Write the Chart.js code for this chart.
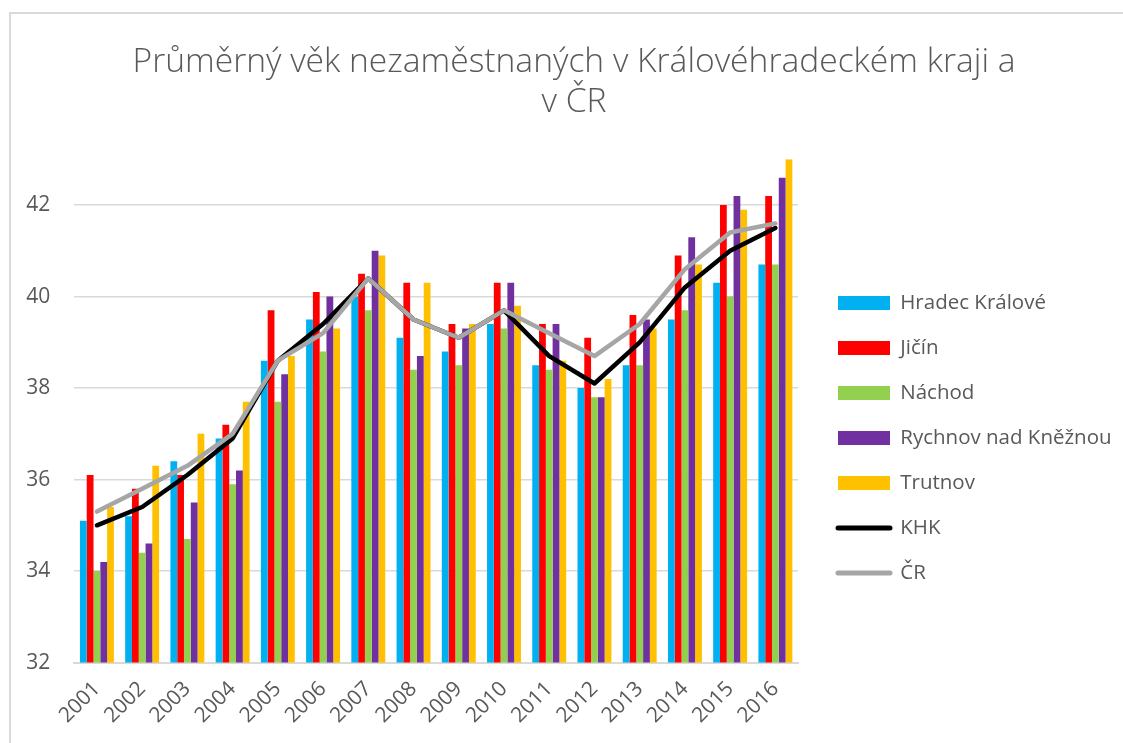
<!DOCTYPE html>
<html>
<head>
<meta charset="utf-8">
<script src="https://cdn.jsdelivr.net/npm/chart.js@4/dist/chart.umd.min.js"></script>
<style>
  html, body { margin: 0; padding: 0; background: #fff; overflow: hidden; }
  #frame { position: absolute; left: 9px; top: 12px; width: 1126px; height: 760px; border: 2px solid #d9d9d9; background: #fff; }
  canvas { display: block; }
</style>
</head>
<body>
<div id="frame"><canvas id="c" width="1126" height="729"></canvas></div>
<script>
const years = ['2001','2002','2003','2004','2005','2006','2007','2008','2009','2010','2011','2012','2013','2014','2015','2016'];
const hradecKralove = [35.1, 35.2, 36.4, 36.9, 38.6, 39.5, 40.0, 39.1, 38.8, 39.4, 38.5, 38.0, 38.5, 39.5, 40.3, 40.7];
const jicin         = [36.1, 35.8, 36.1, 37.2, 39.7, 40.1, 40.5, 40.3, 39.4, 40.3, 39.4, 39.1, 39.6, 40.9, 42.0, 42.2];
const nachod        = [34.0, 34.4, 34.7, 35.9, 37.7, 38.8, 39.7, 38.4, 38.5, 39.3, 38.4, 37.8, 38.5, 39.7, 40.0, 40.7];
const rychnov       = [34.2, 34.6, 35.5, 36.2, 38.3, 40.0, 41.0, 38.7, 39.3, 40.3, 39.4, 37.8, 39.5, 41.3, 42.2, 42.6];
const trutnov       = [35.4, 36.3, 37.0, 37.7, 38.7, 39.3, 40.9, 40.3, 39.4, 39.8, 38.6, 38.2, 39.3, 40.7, 41.9, 43.0];
const khk           = [35.0, 35.4, 36.1, 36.9, 38.6, 39.4, 40.4, 39.5, 39.1, 39.7, 38.7, 38.1, 39.0, 40.2, 41.0, 41.5];
const cr            = [35.3, 35.8, 36.3, 37.0, 38.6, 39.2, 40.4, 39.5, 39.1, 39.7, 39.2, 38.7, 39.4, 40.6, 41.4, 41.6];
const yTicks = [32, 34, 36, 38, 40, 42];
const titleLines = ['Průměrný věk nezaměstnaných v Královéhradeckém kraji a', 'v ČR'];

const TXT = '#595959';
const FONT = "'Open Sans', sans-serif";

function bar(label, data, color) {
  return { type: 'bar', label, data, backgroundColor: color, borderWidth: 0, order: 2,
           categoryPercentage: 0.75, barPercentage: 1.0 };
}
function line(label, data, color, order) {
  return { type: 'line', label, data, borderColor: color, backgroundColor: color, borderWidth: 4.5,
           pointRadius: 0, pointHoverRadius: 0, tension: 0, fill: false, order,
           borderCapStyle: 'round', borderJoinStyle: 'round' };
}

const placeBlocks = {
  id: 'placeBlocks',
  afterLayout(chart) {
    const lg = chart.legend;
    if (lg) {
      const h = lg.bottom - lg.top;
      const pad = chart.options.plugins.legend.labels.padding;
      lg.left = 827 - pad; lg.right = chart.width;
      lg.top = 289 - 10.25 - pad; lg.bottom = lg.top + h;
    }
    const tb = chart.titleBlock;
    if (tb) { tb.left = 0; tb.right = chart.width; }
  }
};

new Chart(document.getElementById('c'), {
  data: {
    labels: years,
    datasets: [
      bar('Hradec Králové', hradecKralove, '#00B0F0'),
      bar('Jičín', jicin, '#FF0000'),
      bar('Náchod', nachod, '#92D050'),
      bar('Rychnov nad Kněžnou', rychnov, '#7030A0'),
      bar('Trutnov', trutnov, '#FFC000'),
      line('KHK', khk, '#000000', 1),
      line('ČR', cr, '#A6A6A6', 0)
    ]
  },
  options: {
    responsive: false,
    animation: false,
    events: [],
    layout: { padding: { left: -16.7, right: 339, top: 0, bottom: 0.7 } },
    plugins: {
      tooltip: { enabled: false },
      title: {
        display: true, text: titleLines, color: TXT,
        font: { family: FONT, size: 33.6, weight: '300', lineHeight: 1.19 },
        padding: { top: 28, bottom: 37.4 }
      },
      legend: {
        position: 'chartArea', align: 'start',
        labels: {
          color: TXT, font: { family: FONT, size: 20.5 },
          usePointStyle: true, pointStyleWidth: 52, boxHeight: 14, padding: 24.5,
          sort: (a, b) => a.datasetIndex - b.datasetIndex,
          generateLabels(chart) {
            const items = Chart.defaults.plugins.legend.labels.generateLabels(chart);
            items.forEach(it => {
              const ds = chart.data.datasets[it.datasetIndex];
              if (ds.type === 'line') {
                it.pointStyle = 'line'; it.lineWidth = 5; it.strokeStyle = ds.borderColor; it.lineCap = 'round';
              } else {
                it.pointStyle = 'rect'; it.lineWidth = 0;
              }
            });
            return items;
          }
        }
      }
    },
    scales: {
      x: {
        grid: { display: false, drawTicks: false },
        border: { display: true, color: '#d9d9d9', width: 2 },
        ticks: { color: TXT, font: { family: FONT, size: 21 }, minRotation: 45, maxRotation: 45, padding: 14 },
        afterFit(axis) { axis.paddingLeft = 0; axis.paddingRight = 0; }
      },
      y: {
        min: 32, max: 43,
        grid: { color: '#d9d9d9', lineWidth: 1.5, drawTicks: false },
        border: { display: false },
        afterBuildTicks(axis) { axis.ticks = yTicks.map(v => ({ value: v })); },
        afterFit(axis) { axis.width = 80; },
        ticks: { color: TXT, font: { family: FONT, size: 21 }, padding: 24 }
      }
    }
  },
  plugins: [placeBlocks]
});
</script>
</body>
</html>
